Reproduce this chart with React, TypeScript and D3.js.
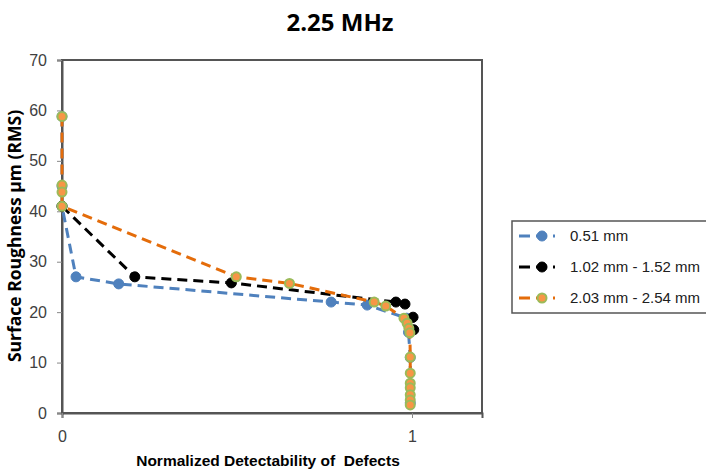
import React, { useEffect, useRef } from 'react';
import * as d3 from 'd3';

// series values (x = normalized detectability, y = roughness)
const blueX = [0, 0, 0, 0.04, 0.162, 0.769, 0.872, 0.985, 0.99, 0.995, 0.995];
const blueY = [58.8, 45, 41, 27, 25.6, 22.0, 21.4, 18.8, 16, 11, 2];
const blackX = [0, 0.208, 0.484, 0.954, 0.98, 1.003, 1.005];
const blackY = [41, 27, 25.8, 22.0, 21.6, 19.0, 16.5];
const orangeX = [0, 0, 0, 0, 0.498, 0.65, 0.892, 0.925, 0.977, 0.986, 0.991, 0.994, 0.995, 0.995, 0.995, 0.995, 0.995, 0.995, 0.995];
const orangeY = [58.8, 45.2, 43.8, 41.0, 27.0, 25.7, 22.0, 21.2, 18.8, 17.8, 16.8, 15.9, 11.1, 7.9, 5.9, 5.0, 3.6, 2.6, 1.6];

const seriesNames = ['0.51 mm', '1.02 mm - 1.52 mm', '2.03 mm - 2.54 mm'];
const yTicks = [0, 10, 20, 30, 40, 50, 60, 70];
const xTicks = [0, 1];

const styles = [
  { line: '#4F81BD', fill: '#4F81BD', stroke: '#4F81BD' },
  { line: '#000000', fill: '#000000', stroke: '#000000' },
  { line: '#E46C0A', fill: '#F79646', stroke: '#9BBB59' },
];

export default function App() {
  const ref = useRef<SVGSVGElement>(null);

  useEffect(() => {
    const svg = d3.select(ref.current);
    svg.selectAll('*').remove();

    const left = 62, right = 482, top = 60, bottom = 413;
    const x = d3.scaleLinear().domain([0, 1.2]).range([left, right]);
    const y = d3.scaleLinear().domain([0, 70]).range([bottom, top]);

    // title
    svg.append('text')
      .attr('x', 340).attr('y', 31)
      .attr('text-anchor', 'middle')
      .attr('font-family', 'Open Sans, sans-serif')
      .attr('font-weight', 'bold')
      .attr('font-size', 24)
      .text('2.25 MHz');

    // plot border
    svg.append('rect')
      .attr('x', left).attr('y', top)
      .attr('width', right - left).attr('height', bottom - top)
      .attr('fill', 'none').attr('stroke', '#555').attr('stroke-width', 2);

    // y axis
    const yAxis = svg.append('g').attr('transform', `translate(${left},0)`)
      .call(d3.axisLeft(y).tickValues(yTicks).tickSize(5).tickPadding(10));
    yAxis.select('.domain').attr('stroke', '#555').attr('stroke-width', 2);
    yAxis.selectAll('line').attr('stroke', '#888');
    yAxis.selectAll('text')
      .attr('font-family', 'Liberation Sans, Arial, sans-serif')
      .attr('font-size', 16).attr('fill', '#404040');

    // x axis
    const xAxis = svg.append('g').attr('transform', `translate(0,${bottom})`)
      .call(d3.axisBottom(x).tickValues(xTicks).tickSize(5).tickPadding(13).tickFormat(d3.format('d')));
    xAxis.select('.domain').attr('stroke', '#555').attr('stroke-width', 2);
    xAxis.selectAll('line').attr('stroke', '#888');
    xAxis.selectAll('text')
      .attr('font-family', 'Liberation Sans, Arial, sans-serif')
      .attr('font-size', 16).attr('fill', '#404040');

    // axis titles
    svg.append('text')
      .attr('transform', `translate(21,236) rotate(-90)`)
      .attr('text-anchor', 'middle')
      .attr('font-family', 'Open Sans, sans-serif')
      .attr('font-weight', 'bold')
      .attr('font-size', 17.5)
      .text('Surface Roughness µm (RMS)');

    svg.append('text')
      .attr('x', 268).attr('y', 466)
      .attr('text-anchor', 'middle')
      .attr('font-family', 'Liberation Sans, Arial, sans-serif')
      .attr('font-weight', 'bold')
      .attr('font-size', 15.5)
      .style('white-space', 'pre')
      .text('Normalized Detectability of  Defects');

    const allSeries = [
      { xs: blueX, ys: blueY },
      { xs: blackX, ys: blackY },
      { xs: orangeX, ys: orangeY },
    ];

    const line = d3.line<[number, number]>()
      .x(d => x(d[0]))
      .y(d => y(d[1]));

    allSeries.forEach((s, i) => {
      const pts: [number, number][] = s.xs.map((v, k) => [v, s.ys[k]]);
      const g = svg.append('g');
      g.append('path')
        .attr('d', line(pts))
        .attr('fill', 'none')
        .attr('stroke', styles[i].line)
        .attr('stroke-width', 3)
        .attr('stroke-dasharray', '10,6');
      g.selectAll('circle').data(pts).enter().append('circle')
        .attr('cx', d => x(d[0]))
        .attr('cy', d => y(d[1]))
        .attr('r', i === 2 ? 4.5 : 5)
        .attr('fill', styles[i].fill)
        .attr('stroke', styles[i].stroke)
        .attr('stroke-width', i === 2 ? 2 : 1);
    });

    // legend
    const lg = svg.append('g');
    lg.append('rect')
      .attr('x', 512).attr('y', 221).attr('width', 210).attr('height', 92)
      .attr('fill', 'white').attr('stroke', '#555').attr('stroke-width', 1.5);
    seriesNames.forEach((name, i) => {
      const cy = 236 + i * 31;
      lg.append('line')
        .attr('x1', 519).attr('x2', 555).attr('y1', cy).attr('y2', cy)
        .attr('stroke', styles[i].line).attr('stroke-width', 3)
        .attr('stroke-dasharray', '11,6');
      lg.append('circle')
        .attr('cx', 542).attr('cy', cy).attr('r', i === 2 ? 4.5 : 5)
        .attr('fill', styles[i].fill).attr('stroke', styles[i].stroke)
        .attr('stroke-width', i === 2 ? 2 : 1);
      lg.append('text')
        .attr('x', 570).attr('y', cy + 5)
        .attr('font-family', 'Liberation Sans, Arial, sans-serif')
        .attr('font-size', 15).attr('fill', '#202020')
        .text(name);
    });
  }, []);

  return (
    <svg ref={ref} width={706} height={469}
      style={{ position: 'absolute', left: 0, top: 0, background: 'white' }} />
  );
}
